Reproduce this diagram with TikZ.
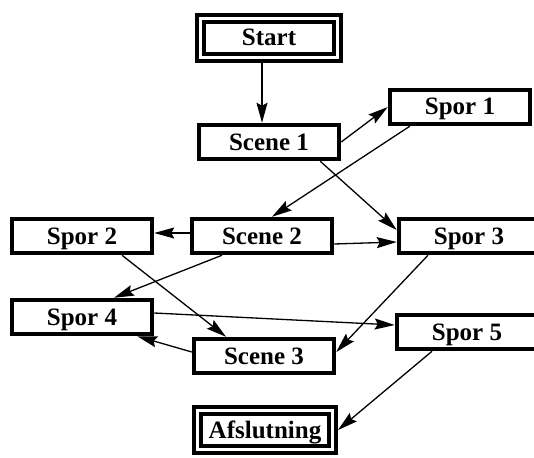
\documentclass[tikz,border=0pt]{standalone}
\usepackage{fontspec}
\setmainfont{Liberation Serif}
\usetikzlibrary{arrows.meta}

\begin{document}
\begin{tikzpicture}[x=1pt, y=-1pt,
    box/.style={draw, line width=4.5pt, minimum width=140pt, minimum height=34pt,
        inner sep=0pt, text height=16pt, text depth=0pt,
        font=\fontsize{25}{29}\selectfont\bfseries},
    endbox/.style={box, double, double distance=3pt, line width=4pt,
        outer sep=5.5pt, minimum height=39pt},
    arr/.style={line width=1.3pt, -{Stealth[length=20pt, width=11pt, inset=3pt]}}]

\useasboundingbox (0,0) rectangle (534,457);
\clip (0,0) rectangle (534,457);

% start and end
\node[endbox, minimum width=137pt] (Start) at (269,38) {Start};
\node[endbox, minimum width=135pt] (Afslutning) at (265,430) {Afslutning};

% scenes and tracks
\foreach \n/\t/\p in {Scene1/Scene 1/{(269,142)}, Scene2/Scene 2/{(262,236)},
    Scene3/Scene 3/{(264,356)}, Spor1/Spor 1/{(460,107)}, Spor2/Spor 2/{(82,236)},
    Spor3/Spor 3/{(469,236)}, Spor4/Spor 4/{(82,317)}, Spor5/Spor 5/{(467,332)}}
{
    \node[box] (\n) at \p {\t};
}

\draw[arr] ([xshift=-7pt]Start.south) -- ([xshift=-7pt]Scene1.north);
\draw[arr] (Scene1.east) -- (Spor1.west);
\draw[arr] ([xshift=22pt]Spor1.south west) -- ([xshift=10pt]Scene2.north);
\draw[arr] ([xshift=-21pt]Scene1.south east) -- ([yshift=6pt]Spor3.west);
\draw[arr] ([yshift=3pt]Scene2.west) -- ([yshift=3pt]Spor2.east);
\draw[arr] ([yshift=-8pt]Scene2.east) -- ([yshift=-6pt]Spor3.west);
\draw[arr] ([xshift=-40pt]Scene2.south) -- ([xshift=32pt]Spor4.north);
\draw[arr] ([xshift=40pt]Spor2.south) -- ([xshift=-38pt]Scene3.north);
\draw[arr] ([xshift=-41pt]Spor3.south) -- ([yshift=4pt]Scene3.east);
\draw[arr] ([yshift=4pt]Spor4.east) -- ([yshift=7pt]Spor5.west);
\draw[arr] ([yshift=4pt]Scene3.west) -- ([xshift=-17pt]Spor4.south east);
\draw[arr] ([xshift=-35pt]Spor5.south) -- (Afslutning.east);

\end{tikzpicture}
\end{document}
